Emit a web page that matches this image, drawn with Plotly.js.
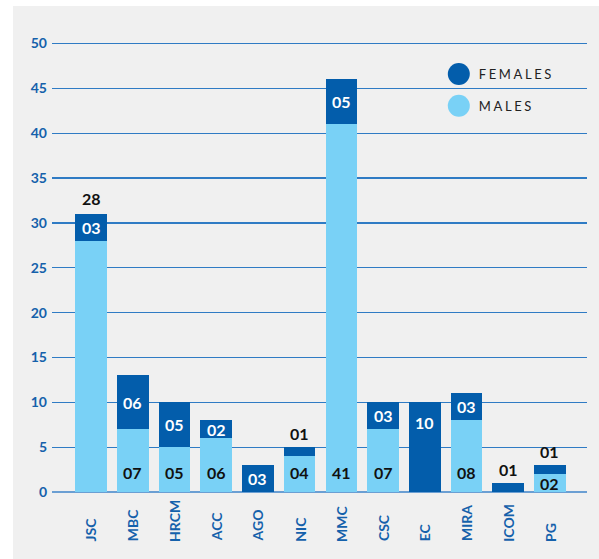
<!DOCTYPE html>
<html><head><meta charset="utf-8">
<script src="https://cdn.plot.ly/plotly-3.0.1.min.js"></script>
<style>
html,body{margin:0;padding:0;background:#ffffff;}
#chart{position:absolute;left:13px;top:6px;width:586px;height:553px;}
.legendtext{letter-spacing:2.6px;}
</style></head><body><div id="chart"></div>
<script>
const categories = ['JSC','MBC','HRCM','ACC','AGO','NIC','MMC','CSC','EC','MIRA','ICOM','PG'];
const males   = [28, 7, 5, 6, 0, 4, 41, 7, 0, 8, 0, 2];
const females = [ 3, 6, 5, 2, 3, 1,  5, 3, 10, 3, 1, 1];
const yTicks = [0, 5, 10, 15, 20, 25, 30, 35, 40, 45, 50];
const seriesNames = ['FEMALES', 'MALES'];
const maleLabelAbove = ['JSC'];

const DARK = '#035dab', LIGHT = '#79d1f6';
const BLUE_TXT = '#1561ab';
const pad2 = v => String(v).padStart(2, '0');
const lblFont = c => ({family: 'Lato, sans-serif', size: 16, color: c, weight: 700});

const traces = [
  {type: 'bar', name: seriesNames[1], x: categories, y: males, marker: {color: LIGHT}, showlegend: false, hoverinfo: 'x+y'},
  {type: 'bar', name: seriesNames[0], x: categories, y: females, marker: {color: DARK}, showlegend: false, hoverinfo: 'x+y'},
  {type: 'scatter', mode: 'markers', name: seriesNames[0], x: [null], y: [null], marker: {color: DARK, size: 16}, legendgroup: 'f'},
  {type: 'scatter', mode: 'markers', name: seriesNames[1], x: [null], y: [null], marker: {color: LIGHT, size: 16}, legendgroup: 'm'}
];

const annotations = [];
categories.forEach((c, i) => {
  const m = males[i], f = females[i], tot = m + f;
  if (m > 0) {
    if (maleLabelAbove.includes(c)) {
      annotations.push({x: c, y: tot, yanchor: 'bottom', yshift: 4, text: pad2(m), showarrow: false, font: lblFont('#111111')});
    } else if (m >= 4) {
      annotations.push({x: c, y: 0, yanchor: 'middle', yshift: 20, text: pad2(m), showarrow: false, font: lblFont('#111111')});
    } else {
      annotations.push({x: c, y: m / 2, yanchor: 'middle', text: pad2(m), showarrow: false, font: lblFont('#111111')});
    }
  }
  if (f > 0) {
    if (f === 1) {
      annotations.push({x: c, y: tot, yanchor: 'bottom', yshift: 2, text: pad2(f), showarrow: false, font: lblFont('#111111')});
    } else if (m === 0 && f >= 5) {
      annotations.push({x: c, y: tot, yanchor: 'top', yshift: -9, text: pad2(f), showarrow: false, font: lblFont('#ffffff')});
    } else {
      annotations.push({x: c, y: m + f / 2, yanchor: 'middle', text: pad2(f), showarrow: false, font: lblFont('#ffffff')});
    }
  }
  annotations.push({x: c, xref: 'x', y: -0.114, yref: 'paper', yanchor: 'bottom', xanchor: 'center', textangle: -90,
    text: c, showarrow: false, font: {family: 'Lato, sans-serif', size: 14, color: BLUE_TXT, weight: 700}});
});

const layout = {
  width: 586, height: 553,
  margin: {l: 39, r: 12, t: 34, b: 67},
  paper_bgcolor: '#f0f0f0', plot_bgcolor: '#f0f0f0',
  barmode: 'stack', bargap: 0.24,
  xaxis: {type: 'category', range: [-0.935, 11.887], showticklabels: false, showgrid: false, zeroline: false, showline: false, fixedrange: true},
  yaxis: {range: [0, 50.4], tickvals: yTicks, ticktext: yTicks.map(String), showgrid: true, gridcolor: '#2f7bc4', gridwidth: 1.3,
    zeroline: true, zerolinecolor: '#6b9fd3', zerolinewidth: 2, ticks: '', ticklabelstandoff: 4,
    tickfont: {family: 'Lato, sans-serif', size: 14, color: BLUE_TXT, weight: 700}, showline: false},
  legend: {x: 0.723, xanchor: 'left', y: 0.958, yanchor: 'top', bgcolor: 'rgba(0,0,0,0)', tracegroupgap: 12,
    font: {family: 'Lato, sans-serif', size: 13, color: '#222222'}},
  annotations: annotations,
  showlegend: true
};

Plotly.newPlot('chart', traces, layout, {displayModeBar: false, staticPlot: true}).then(() => {
  document.querySelectorAll('.legendpoints path.scatterpts').forEach(p => p.setAttribute('d', 'M11,0A11,11 0 1,1 0,-11A11,11 0 0,1 11,0Z'));
});
</script></body></html>
